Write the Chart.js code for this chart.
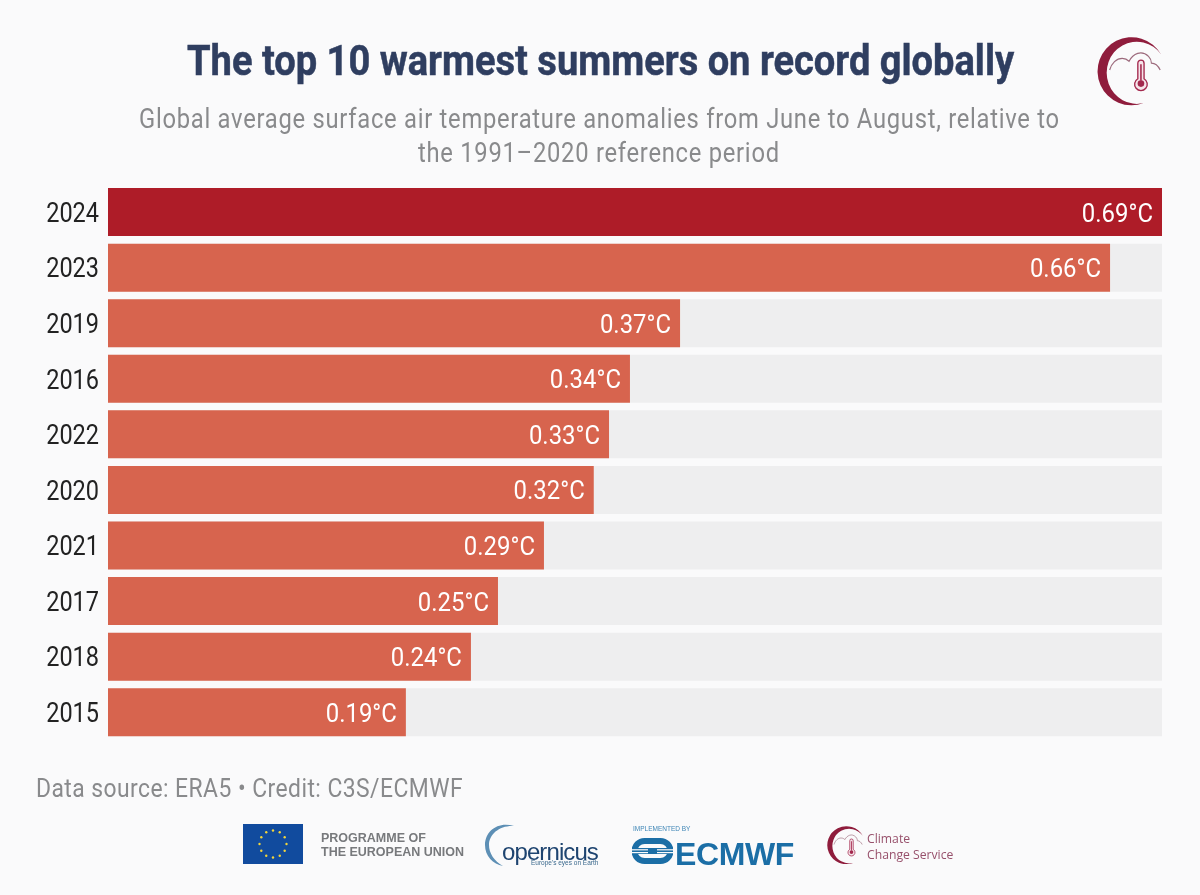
<!DOCTYPE html>
<html>
<head>
<meta charset="utf-8">
<title>The top 10 warmest summers on record globally</title>
<script src="https://cdn.jsdelivr.net/npm/chart.js@4"></script>
<style>
  html, body { margin: 0; padding: 0; background: #fafafb; }
  body { position: relative; width: 1200px; height: 895px; overflow: hidden; font-family: Roboto, sans-serif; }
  canvas { position: absolute; left: 0; top: 0; }
  .txt { position: absolute; white-space: nowrap; line-height: 1; }
  .squeeze { transform-origin: left top; }
  #title { left: 187px; top: 40px; font-size: 42px; font-weight: 700; color: #2f3e60; -webkit-text-stroke: .5px #2f3e60; transform: scaleX(.906); }
  .sub { font-size: 27px; color: #898a8c; letter-spacing: .83px; transform: scaleX(.88); }
  #sub1 { left: 139px; top: 106px; }
  #sub2 { left: 418px; top: 140px; }
  #source { left: 36px; top: 775px; font-size: 26px; color: #898a8c; letter-spacing: .5px; transform: scaleX(.88); }
  svg { position: absolute; }
  .eu { left: 321px; font: 700 12.5px "Liberation Sans", sans-serif; color: #77797c; }
  .ccs { left: 867px; font: 400 12.2px "Open Sans", sans-serif; color: #97506b; }
</style>
</head>
<body>
<canvas id="chart" width="1200" height="895"></canvas>

<div id="title" class="txt squeeze">The top 10 warmest summers on record globally</div>
<div id="sub1" class="txt squeeze sub">Global average surface air temperature anomalies from June to August, relative to</div>
<div id="sub2" class="txt squeeze sub">the 1991–2020 reference period</div>
<div id="source" class="txt squeeze">Data source: ERA5 • Credit: C3S/ECMWF</div>

<!-- climate service icon, used top right and in the footer -->
<svg width="0" height="0">
  <symbol id="ccsIcon" viewBox="0 0 72 72">
    <path d="M66 20 A35 35 0 1 0 48 70 A31 32 0 1 1 66 20 Z" fill="#8f1c3c"/>
    <path d="M13 36 C15 29 20 24 26 24 C30 24 32 26 33 27 C37 19 46 15 53 22 C56 25 56 28 56 29 C60 29 63 32 65 36" fill="none" stroke="#9c6a7c" stroke-width="1.2"/>
    <path d="M42 45 V29 A3.2 3.2 0 0 1 48.4 29 V45 A6.5 6.5 0 1 1 42 45 Z" fill="#f6e4ea" stroke="#a3284d" stroke-width="1.4"/>
    <path d="M45.2 30 V47" stroke="#a3284d" stroke-width="1.6"/>
    <circle cx="45.2" cy="50" r="3.4" fill="#a3284d"/>
  </symbol>
</svg>
<svg style="left:1097px;top:34px" width="70" height="72"><use href="#ccsIcon"/></svg>

<!-- EU flag -->
<svg id="flag" style="left:243px;top:824px" width="60" height="40" viewBox="0 0 60 40"></svg>
<div class="txt eu" style="top:831px">PROGRAMME OF</div>
<div class="txt eu" style="top:845px">THE EUROPEAN UNION</div>

<!-- copernicus -->
<svg style="left:484px;top:823px" width="40" height="44" viewBox="0 0 40 44">
  <path d="M30 3 C14 -2 1 8 1 22 C1 33 9 41 19 43 C10 38 5 30 5 22 C5 11 16 2 30 3 Z" fill="#5d8fb5"/>
</svg>
<div class="txt" style="left:502px;top:838px;font:400 24px 'Liberation Sans',sans-serif;color:#1e4470;letter-spacing:-.9px">opernicus</div>
<div class="txt" style="left:531px;top:859px;font:400 6.5px 'Liberation Sans',sans-serif;color:#3c6a8e">Europe's eyes on Earth</div>

<!-- ecmwf -->
<div class="txt" style="left:633px;top:825px;font:400 6.5px 'Liberation Sans',sans-serif;color:#3f86b6">IMPLEMENTED BY</div>
<svg style="left:632px;top:838px" width="41" height="26" viewBox="0 0 41 26">
  <circle cx="12.5" cy="13" r="10" fill="none" stroke="#1b6ea6" stroke-width="6"/>
  <circle cx="28.5" cy="13" r="10" fill="none" stroke="#1b6ea6" stroke-width="6"/>
  <rect x="12.5" y="0" width="16" height="6" fill="#1b6ea6"/>
  <rect x="12.5" y="20" width="16" height="6" fill="#1b6ea6"/>
  <rect x="13" y="6" width="15" height="14" fill="#fafafb"/>
  <rect x="0" y="10" width="41" height="6" fill="#1b6ea6"/>
  <rect x="0" y="11.2" width="16" height="1.2" fill="#fafafb"/><rect x="0" y="14" width="16" height="1.2" fill="#fafafb"/>
  <rect x="25" y="11.2" width="16" height="1.2" fill="#fafafb"/><rect x="25" y="14" width="16" height="1.2" fill="#fafafb"/>
</svg>
<div class="txt" style="left:675px;top:836px;font:700 32px 'Liberation Sans',sans-serif;color:#1b6ea6;letter-spacing:-.4px">ECMWF</div>

<!-- ccs footer -->
<svg style="left:827px;top:825px" width="39" height="39"><use href="#ccsIcon"/></svg>
<div class="txt ccs" style="top:830px">Climate</div>
<div class="txt ccs" style="top:846px">Change Service</div>

<script>
const years = ["2024", "2023", "2019", "2016", "2022", "2020", "2021", "2017", "2018", "2015"];
const anomalies = [0.69, 0.656, 0.3745, 0.3417, 0.328, 0.318, 0.2854, 0.2553, 0.2376, 0.195];
const valueLabels = ["0.69°C", "0.66°C", "0.37°C", "0.34°C", "0.33°C", "0.32°C", "0.29°C", "0.25°C", "0.24°C", "0.19°C"];
const trackValues = [0.69, 0.69, 0.69, 0.69, 0.69, 0.69, 0.69, 0.69, 0.69, 0.69];
const barColors = ["#ae1c28", "#d7644e", "#d7644e", "#d7644e", "#d7644e", "#d7644e", "#d7644e", "#d7644e", "#d7644e", "#d7644e"];

// stars on the flag
const flag = document.getElementById("flag");
let flagMarkup = '<rect width="60" height="40" fill="#114b9e"/>';
for (let i = 0; i < 12; i++) {
  const a = i * Math.PI / 6;
  flagMarkup += `<circle cx="${30 + 13.5 * Math.sin(a)}" cy="${20 - 13.5 * Math.cos(a)}" r="1.2" fill="#f4d63a"/>`;
}
flag.innerHTML = flagMarkup;

// no condensed Roboto installed, so squeeze the canvas text sideways
function squeezedText(ctx, text, x, y, align, color, size, squeeze) {
  ctx.save();
  ctx.translate(x, y);
  ctx.scale(squeeze, 1);
  ctx.font = size + "px Roboto";
  ctx.textAlign = align;
  ctx.textBaseline = "middle";
  ctx.fillStyle = color;
  ctx.fillText(text, 0, 0);
  ctx.restore();
}

const barText = {
  id: "barText",
  afterDatasetsDraw(chart) {
    const ctx = chart.ctx;
    const yScale = chart.scales.y;
    const bars = chart.getDatasetMeta(1).data;
    years.forEach((year, i) => {
      squeezedText(ctx, year, 99, yScale.getPixelForTick(i) + 3, "right", "#222222", 27, 0.87);
      squeezedText(ctx, valueLabels[i], bars[i].x - 9, bars[i].y + 3, "right", "#ffffff", 26, 0.92);
    });
  }
};

new Chart(document.getElementById("chart"), {
  type: "bar",
  data: {
    labels: years,
    datasets: [
      {
        label: "Track",
        data: trackValues,
        backgroundColor: "#eeeeef",
        order: 2
      },
      {
        label: "Anomaly",
        data: anomalies,
        backgroundColor: barColors,
        order: 1
      }
    ]
  },
  options: {
    indexAxis: "y",
    responsive: false,
    animation: false,
    layout: { padding: { left: 108, right: 38, top: 184.3, bottom: 155 } },
    datasets: {
      bar: {
        grouped: false,
        categoryPercentage: 1,
        barPercentage: 0.864,
        borderWidth: 0
      }
    },
    plugins: {
      legend: { display: false },
      title: { display: false },
      tooltip: { enabled: false }
    },
    scales: {
      x: { display: false, min: 0, max: 0.69 },
      y: { display: false }
    }
  },
  plugins: [barText]
});
</script>
</body>
</html>
